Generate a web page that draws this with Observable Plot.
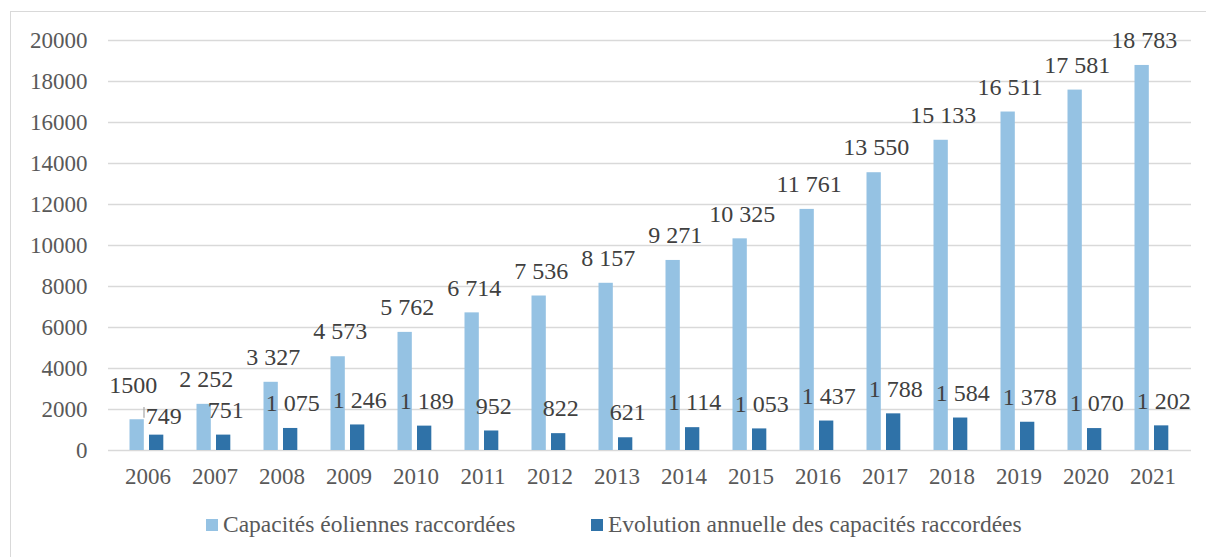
<!DOCTYPE html>
<html>
<head>
<meta charset="utf-8">
<script src="https://cdn.jsdelivr.net/npm/d3@7"></script>
<script src="https://cdn.jsdelivr.net/npm/@observablehq/plot@0.6"></script>
<style>
  html, body { margin: 0; padding: 0; background: #fff; width: 1206px; height: 557px; overflow: hidden; }
  #frame { position: absolute; left: 10px; top: 11px; width: 1250px; height: 600px; border: 1.5px solid #d9d9d9; box-sizing: border-box; }
  #chart { position: absolute; left: 0; top: 0; }
  #legend { position: absolute; top: 511px; left: 0; width: 1206px; height: 30px; font-family: "Liberation Serif", serif; font-size: 23.5px; color: #595959; }
  .item { position: absolute; top: 0; display: flex; align-items: center; white-space: nowrap; }
  .sw { width: 12px; height: 12px; margin-right: 5px; }
</style>
</head>
<body>
<div id="frame"></div>
<div id="chart"></div>
<div id="legend"></div>
<script>
const years = ["2006","2007","2008","2009","2010","2011","2012","2013","2014","2015","2016","2017","2018","2019","2020","2021"];
const capacites = [1500, 2252, 3327, 4573, 5762, 6714, 7536, 8157, 9271, 10325, 11761, 13550, 15133, 16511, 17581, 18783];
const evolution = [749, 751, 1075, 1246, 1189, 952, 822, 621, 1114, 1053, 1437, 1788, 1584, 1378, 1070, 1202];
const capLabels = ["1500","2 252","3 327","4 573","5 762","6 714","7 536","8 157","9 271","10 325","11 761","13 550","15 133","16 511","17 581","18 783"];
const evoLabels = ["749","751","1 075","1 246","1 189","952","822","621","1 114","1 053","1 437","1 788","1 584","1 378","1 070","1 202"];
const yTicks = [0, 2000, 4000, 6000, 8000, 10000, 12000, 14000, 16000, 18000, 20000];
const seriesNames = ["Capacités éoliennes raccordées", "Evolution annuelle des capacités raccordées"];
const colors = ["#95c2e3", "#2f72a8"];

const data = years.map((y, i) => ({year: y, cap: capacites[i], evo: evolution[i], capLabel: capLabels[i], evoLabel: evoLabels[i], i}));

const font = "'Liberation Serif', 'Times New Roman', serif";
const W = 1206, mL = 108, mR = 15;
const bw = (W - mL - mR) / years.length;

const chart = Plot.plot({
  width: W,
  height: 500,
  marginLeft: mL,
  marginRight: mR,
  marginTop: 40,
  marginBottom: 50,
  style: {fontFamily: font, fontSize: "23px", color: "#595959", background: "transparent"},
  x: {type: "band", domain: years, padding: 0},
  y: {domain: [0, 20000]},
  marks: [
    Plot.gridY(yTicks, {stroke: "#d9d9d9", strokeOpacity: 1, strokeWidth: 1.5}),
    Plot.barY(data, {x: "year", y: "cap", fill: colors[0], insetLeft: 15.5, insetRight: bw - 30.5}),
    Plot.barY(data, {x: "year", y: "evo", fill: colors[1], insetLeft: 35, insetRight: bw - 50}),
    Plot.axisY({ticks: yTicks, tickFormat: d3.format("d"), tickSize: 0, tickPadding: 21, label: null}),
    Plot.axisX({tickSize: 0, tickPadding: 17, label: null}),
    // leader line for the moved 2006 label
    Plot.link(data.filter(d => d.i === 0), {x1: "year", x2: "year", y1: d => d.cap + 100, y2: d => d.cap + 620, dx: -4, stroke: "#a6a6a6", strokeWidth: 1.2}),
    Plot.text(data.filter(d => d.i > 0), {x: "year", y: "cap", text: "capLabel", dx: 23 - bw / 2 + 2, dy: -25, fontSize: 24, fill: "#404040", fontFamily: font}),
    Plot.text(data.filter(d => d.i === 0), {x: "year", y: "cap", text: "capLabel", dx: 23 - bw / 2 - 4, dy: -34, fontSize: 24, fill: "#404040", fontFamily: font}),
    Plot.text(data.filter(d => d.i > 0), {x: "year", y: "evo", text: "evoLabel", dx: 42.5 - bw / 2 + 2, dy: -25, fontSize: 24, fill: "#404040", fontFamily: font}),
    Plot.text(data.filter(d => d.i === 0), {x: "year", y: "evo", text: "evoLabel", dx: 42.5 - bw / 2 + 7, dy: -19, fontSize: 24, fill: "#404040", fontFamily: font})
  ]
});
document.getElementById("chart").appendChild(chart);

const legend = document.getElementById("legend");
const lefts = [206, 591];
seriesNames.forEach((name, k) => {
  const it = document.createElement("div");
  it.className = "item";
  it.style.left = lefts[k] + "px";
  const sw = document.createElement("span");
  sw.className = "sw";
  sw.style.background = colors[k];
  const tx = document.createElement("span");
  tx.textContent = name;
  it.appendChild(sw);
  it.appendChild(tx);
  legend.appendChild(it);
});
</script>
</body>
</html>
